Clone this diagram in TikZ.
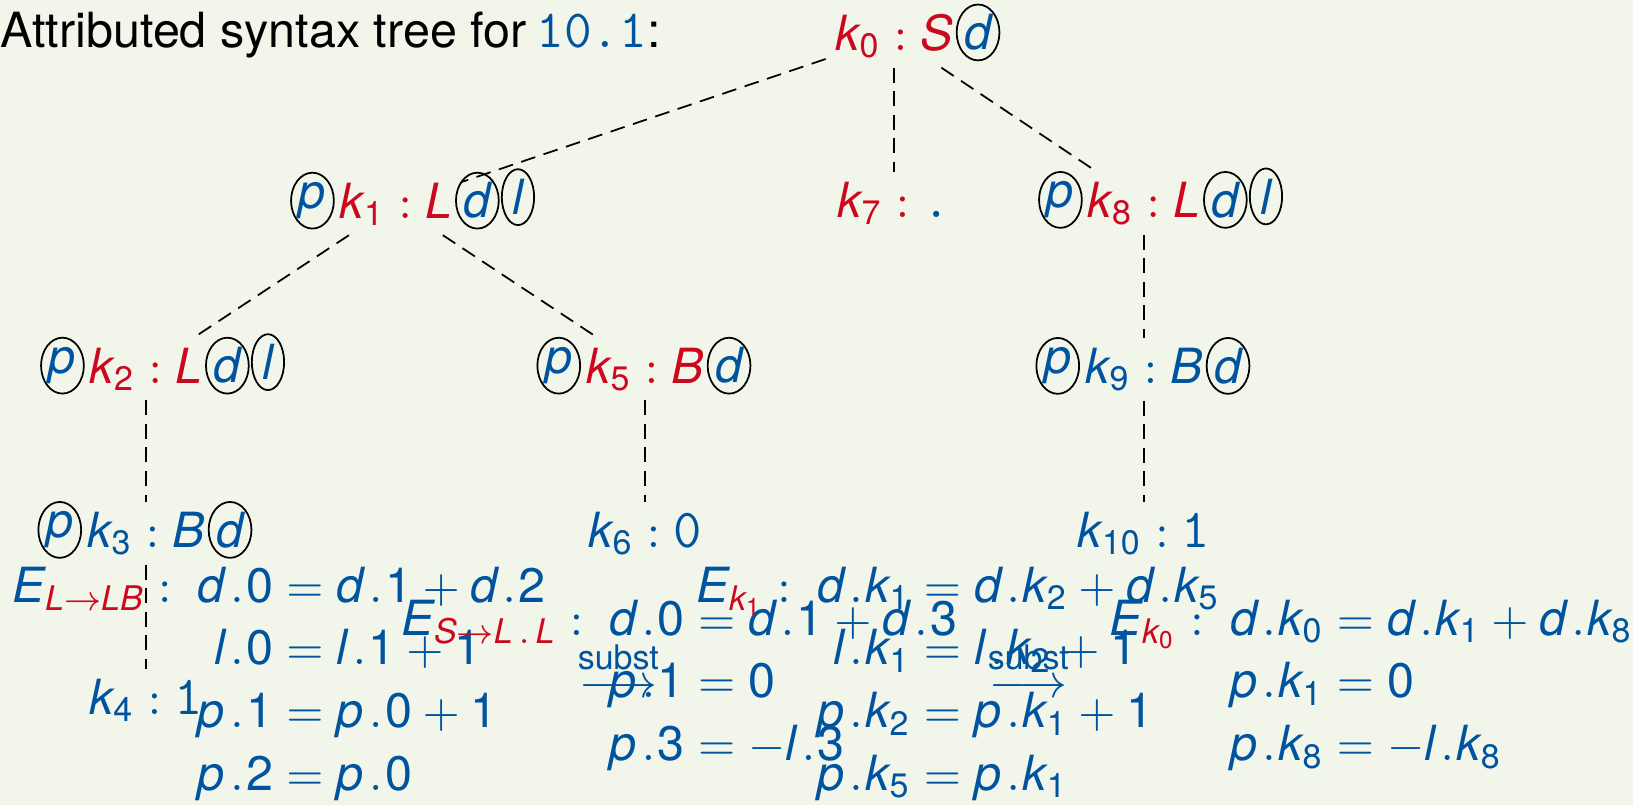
\documentclass[tikz,border=0pt]{standalone}
\usepackage{amsmath}
\usepackage{fontspec}
\setmainfont{TeX Gyre Heros}
\newfontfamily\herosfam{TeX Gyre Heros}[NFSSFamily=heros]
\usepackage{tikz}
\usetikzlibrary{positioning,shapes.geometric}

% upright sans digits in maths
\AtBeginDocument{%
  \DeclareSymbolFont{herosup}{TU}{heros}{m}{n}%
  \DeclareMathSymbol{0}{\mathalpha}{herosup}{`0}%
  \DeclareMathSymbol{1}{\mathalpha}{herosup}{`1}%
  \DeclareMathSymbol{2}{\mathalpha}{herosup}{`2}%
  \DeclareMathSymbol{3}{\mathalpha}{herosup}{`3}%
  \DeclareMathSymbol{4}{\mathalpha}{herosup}{`4}%
  \DeclareMathSymbol{5}{\mathalpha}{herosup}{`5}%
  \DeclareMathSymbol{6}{\mathalpha}{herosup}{`6}%
  \DeclareMathSymbol{7}{\mathalpha}{herosup}{`7}%
  \DeclareMathSymbol{8}{\mathalpha}{herosup}{`8}%
  \DeclareMathSymbol{9}{\mathalpha}{herosup}{`9}%
}

% a spaced selector dot in the equations
\begingroup\catcode`\.=\active
\gdef.{\mkern2mu\mathchar"013A\mkern1mu}
\endgroup
\newcommand{\selectdot}{\mathcode`\.="8000\relax}

\definecolor{slideblue}{HTML}{00549F}
\definecolor{slidered}{HTML}{CC071E}
\definecolor{slidebg}{HTML}{F1F5EA}

\newcommand{\mv}[1]{\mathit{#1}}
\newcommand{\rd}[1]{{\color{slidered}#1}}
\newcommand{\tok}[1]{\text{\fontsize{12.6}{15}\selectfont\ttfamily #1}}

\begin{document}
\begin{tikzpicture}[
      x=0.229pt, y=-0.229pt,
      font=\fontsize{11.1}{13.6}\selectfont,
      knode/.style  = {inner sep=2pt, anchor=base, text=slidered},
      kleaf/.style  = {inner sep=2pt, anchor=base, text=slideblue},
      attr/.style   = {draw, ellipse, inner sep=0pt, line width=0.4pt,
                       minimum width=9.8pt, minimum height=12.8pt,
                       text=slideblue, yshift=0.8pt},
      thin/.style   = {minimum width=7.4pt},
      treeedge/.style = {dash pattern=on 3.4pt off 2pt, line width=0.4pt},
      eqn/.style    = {inner sep=0pt, anchor=base west, text=slideblue,
                       font=\fontsize{11.1}{13.6}\selectfont\setlength{\jot}{0.76pt}\selectdot},
    ]
    \fill[slidebg] (0,0) rectangle (1633,805);
    \useasboundingbox (0,0) rectangle (1633,805);

    \node[anchor=base west, inner sep=0pt] (title) at (0,47)
      {Attributed syntax tree for\hspace{-0.8pt} {\color{slideblue}\fontsize{12.3}{15}\selectfont\texttt{10.1}}:};

    % the tree
    \node[knode] (k0) at (894,50) {$\mv{k}_0 : \mv{S}$};
    \node[attr, right=-1.5pt of k0] (k0d) {$\mv{d}$};

    \node[knode] (k1) at (396,218) {$\mv{k}_1 : \mv{L}$};
    \node[attr, left=-1pt of k1] (k1p) {$\mv{p}$};
    \node[attr, right=-1.5pt of k1] (k1d) {$\mv{d}$};
    \node[attr, thin, right=0.3pt of k1d] (k1l) {$\mv{l}$};

    \node[knode] (k7) at (894,217) {$\mv{k}_7 : {\color{slideblue}\tok{.}}$};

    \node[knode] (k8) at (1144,217) {$\mv{k}_8 : \mv{L}$};
    \node[attr, left=-1pt of k8] (k8p) {$\mv{p}$};
    \node[attr, right=-1.5pt of k8] (k8d) {$\mv{d}$};
    \node[attr, thin, right=0.3pt of k8d] (k8l) {$\mv{l}$};

    \node[knode] (k2) at (146,383) {$\mv{k}_2 : \mv{L}$};
    \node[attr, left=-1pt of k2] (k2p) {$\mv{p}$};
    \node[attr, right=-1.5pt of k2] (k2d) {$\mv{d}$};
    \node[attr, thin, right=0.3pt of k2d] (k2l) {$\mv{l}$};

    \node[knode] (k5) at (645,383) {$\mv{k}_5 : \mv{B}$};
    \node[attr, left=-1pt of k5] (k5p) {$\mv{p}$};
    \node[attr, right=-1.5pt of k5] (k5d) {$\mv{d}$};

    \node[kleaf] (k9) at (1144,383) {$\mv{k}_9 : \mv{B}$};
    \node[attr, left=-1pt of k9] (k9p) {$\mv{p}$};
    \node[attr, right=-1.5pt of k9] (k9d) {$\mv{d}$};

    \node[kleaf] (k3) at (146,547) {$\mv{k}_3 : \mv{B}$};
    \node[attr, left=-1pt of k3] (k3p) {$\mv{p}$};
    \node[attr, right=-1.5pt of k3] (k3d) {$\mv{d}$};

    \node[kleaf] (k6) at (645,547) {$\mv{k}_6 : \tok{0}$};
    \node[kleaf] (k10) at (1144,547) {$\mv{k}_{10} : \tok{1}$};
    \node[kleaf] (k4) at (146,714) {$\mv{k}_4 : \tok{1}$};

    \draw[treeedge] (k0) -- (k1);
    \draw[treeedge] (k0) -- (k7);
    \draw[treeedge] (k0) -- (k8);
    \draw[treeedge] (k1) -- (k2);
    \draw[treeedge] (k1) -- (k5);
    \draw[treeedge] (k8) -- (k9);
    \draw[treeedge] (k2) -- (k3);
    \draw[treeedge] (k3) -- (k4);
    \draw[treeedge] (k5) -- (k6);
    \draw[treeedge] (k9) -- (k10);

    % equation systems
    \node[eqn] (eqLLB) at (12,602)
      {$\mv{E}_{\rd{\mv{L}\to\mv{LB}}} : \; \begin{aligned}[t]
        \mv{d}.0 &= \mv{d}.1 + \mv{d}.2\\
        \mv{l}.0 &= \mv{l}.1 + 1\\
        \mv{p}.1 &= \mv{p}.0 + 1\\
        \mv{p}.2 &= \mv{p}.0
      \end{aligned}$};
    \node[eqn] (eqSLL) at (401,635)
      {$\mv{E}_{\rd{\mv{S}\to\mv{L}\mkern1mu.\mkern2mu\mv{L}}} : \; \begin{aligned}[t]
        \mv{d}.0 &= \mv{d}.1 + \mv{d}.3\\
        \mv{p}.1 &= 0\\
        \mv{p}.3 &= -\mv{l}.3
      \end{aligned}$};
    \node[eqn] (eqk1) at (696,602)
      {$\mv{E}_{\rd{\mv{k}_1}} : \; \begin{aligned}[t]
        \mv{d}.\mv{k}_1 &= \mv{d}.\mv{k}_2 + \mv{d}.\mv{k}_5\\
        \mv{l}.\mv{k}_1 &= \mv{l}.\mv{k}_2 + 1\\
        \mv{p}.\mv{k}_2 &= \mv{p}.\mv{k}_1 + 1\\
        \mv{p}.\mv{k}_5 &= \mv{p}.\mv{k}_1
      \end{aligned}$};
    \node[eqn] (eqk0) at (1109,635)
      {$\mv{E}_{\rd{\mv{k}_0}} : \; \begin{aligned}[t]
        \mv{d}.\mv{k}_0 &= \mv{d}.\mv{k}_1 + \mv{d}.\mv{k}_8\\
        \mv{p}.\mv{k}_1 &= 0\\
        \mv{p}.\mv{k}_8 &= -\mv{l}.\mv{k}_8
      \end{aligned}$};

    \node[eqn] (subst1) at (577,697) {$\overset{\text{subst}}{\longrightarrow}$};
    \node[eqn] (subst2) at (987,697) {$\overset{\text{subst}}{\longrightarrow}$};
  \end{tikzpicture}
\end{document}
